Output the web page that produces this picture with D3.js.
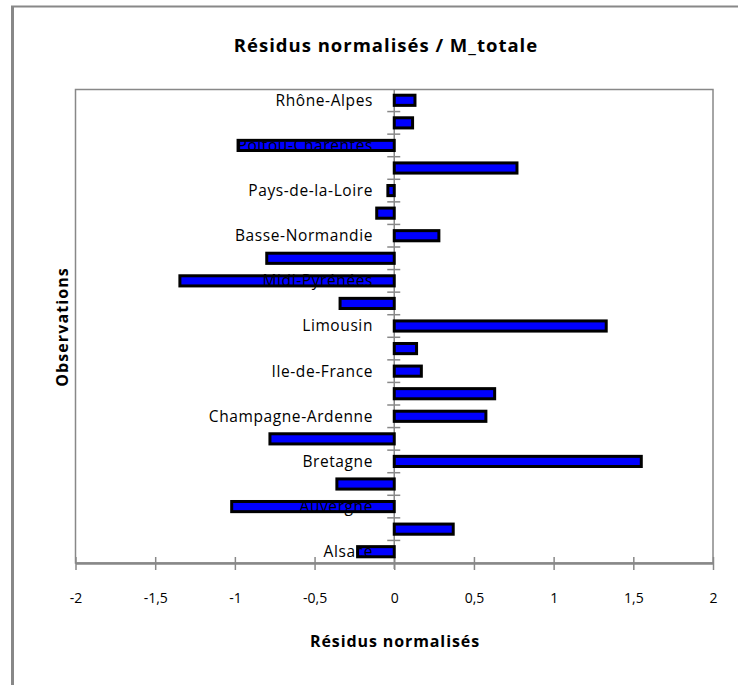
<!DOCTYPE html>
<html>
<head>
    <meta charset="utf-8">
    <script src="https://cdn.jsdelivr.net/npm/d3@7"></script>
    <style>
        body { margin: 0; background: #fff; }
    </style>
</head>
<body>
    <div id="chart"></div>
    <script>

        var width = 738;
        var height = 685;

        // categories, bottom to top
        var regions = ["Alsace", "Aquitaine", "Auvergne", "Bourgogne", "Bretagne", "Centre",
            "Champagne-Ardenne", "Franche-Comté", "Ile-de-France", "Languedoc-Roussillon",
            "Limousin", "Lorraine", "Midi-Pyrénées", "Nord-Pas-de-Calais", "Basse-Normandie",
            "Haute-Normandie", "Pays-de-la-Loire", "Picardie", "Poitou-Charentes", "PACA", "Rhône-Alpes"];
        var residus = [-0.23, 0.37, -1.02, -0.36, 1.55, -0.78, 0.575, 0.63, 0.17, 0.14,
            1.33, -0.34, -1.345, -0.80, 0.28, -0.11, -0.04, 0.77, -0.98, 0.115, 0.13];
        // only every other category gets a label
        var shownLabels = ["Alsace", "Auvergne", "Bretagne", "Champagne-Ardenne", "Ile-de-France",
            "Limousin", "Midi-Pyrénées", "Basse-Normandie", "Pays-de-la-Loire", "Poitou-Charentes", "Rhône-Alpes"];
        var xTicks = [-2, -1.5, -1, -0.5, 0, 0.5, 1, 1.5, 2];

        var font = "'Open Sans', sans-serif";

        var svg = d3.select("#chart")
            .append("svg")
            .attr("width", width)
            .attr("height", height);

        // outer chart frame (only top and left are visible)
        svg.append("line")
            .attr("x1", 12.5).attr("y1", 6).attr("x2", 12.5).attr("y2", height)
            .attr("stroke", "#888").attr("stroke-width", 3);
        svg.append("line")
            .attr("x1", 11).attr("y1", 6.5).attr("x2", width).attr("y2", 6.5)
            .attr("stroke", "#888").attr("stroke-width", 2);

        var x = d3.scaleLinear()
            .domain([-2, 2])
            .range([75.5, 713]);

        var y = d3.scaleBand()
            .domain(regions.slice().reverse())
            .range([89, 563])
            .paddingInner(0.55)
            .paddingOuter(0.275);

        // plot frame
        svg.append("rect")
            .attr("x", x(-2)).attr("y", 89.5)
            .attr("width", x(2) - x(-2)).attr("height", 563 - 89.5)
            .attr("fill", "none").attr("stroke", "#888").attr("stroke-width", 1.5);

        // x axis
        var xAxis = d3.axisBottom(x)
            .tickValues(xTicks)
            .tickSize(0)
            .tickPadding(30)
            .tickFormat(function (d) { return String(d).replace(".", ","); });

        var gx = svg.append("g")
            .attr("transform", "translate(0,563)")
            .call(xAxis);
        gx.select(".domain").attr("stroke", "#888").attr("stroke-width", 2.5);
        gx.selectAll(".tick text")
            .attr("font-family", font).attr("font-size", 14).attr("fill", "#000");
        gx.selectAll(".tick").append("line")
            .attr("y1", -6).attr("y2", 7)
            .attr("stroke", "#888").attr("stroke-width", 1.5);

        // category axis ticks (on zero line, between bands)
        var step = y.step();
        var bounds = d3.range(regions.length + 1).map(function (i) { return 89 + i * step; });
        svg.append("g").selectAll("line")
            .data(bounds.slice(1, -1))
            .enter().append("line")
            .attr("x1", x(0) - 7).attr("x2", x(0) + 6)
            .attr("y1", function (d) { return d; })
            .attr("y2", function (d) { return d; })
            .attr("stroke", "#888").attr("stroke-width", 1.5);

        svg.append("line")
            .attr("x1", x(0)).attr("x2", x(0))
            .attr("y1", 89.5).attr("y2", 569)
            .attr("stroke", "#888").attr("stroke-width", 1.5);

        // bars
        svg.append("g").selectAll("rect")
            .data(regions)
            .enter().append("rect")
            .attr("x", function (d, i) { return x(Math.min(0, residus[i])); })
            .attr("y", function (d) { return y(d); })
            .attr("width", function (d, i) { return Math.abs(x(residus[i]) - x(0)); })
            .attr("height", y.bandwidth())
            .attr("fill", "#0000ff")
            .attr("stroke", "#000")
            .attr("stroke-width", 3);

        // category labels, drawn over the bars
        svg.append("g").selectAll("text")
            .data(shownLabels)
            .enter().append("text")
            .attr("x", 373)
            .attr("y", function (d) { return y(d) + y.bandwidth() / 2; })
            .attr("dy", "0.35em")
            .attr("text-anchor", "end")
            .attr("font-family", font)
            .attr("font-size", 15.5)
            .attr("letter-spacing", 0.6)
            .attr("fill", "#000")
            .text(function (d) { return d; });

        // titles
        svg.append("text")
            .attr("x", 386).attr("y", 46)
            .attr("dy", "0.35em")
            .attr("text-anchor", "middle")
            .attr("font-family", font)
            .attr("font-weight", "bold")
            .attr("font-size", 18.5)
            .attr("letter-spacing", 1)
            .text("Résidus normalisés / M_totale");

        svg.append("text")
            .attr("x", 395).attr("y", 641)
            .attr("dy", "0.35em")
            .attr("text-anchor", "middle")
            .attr("font-family", font)
            .attr("font-weight", "bold")
            .attr("font-size", 16)
            .attr("letter-spacing", 0.9)
            .text("Résidus normalisés");

        svg.append("text")
            .attr("transform", "translate(62,327) rotate(-90)")
            .attr("dy", "0.35em")
            .attr("text-anchor", "middle")
            .attr("font-family", font)
            .attr("font-weight", "bold")
            .attr("font-size", 16)
            .attr("letter-spacing", 1.1)
            .text("Observations");

    </script>
</body>
</html>
